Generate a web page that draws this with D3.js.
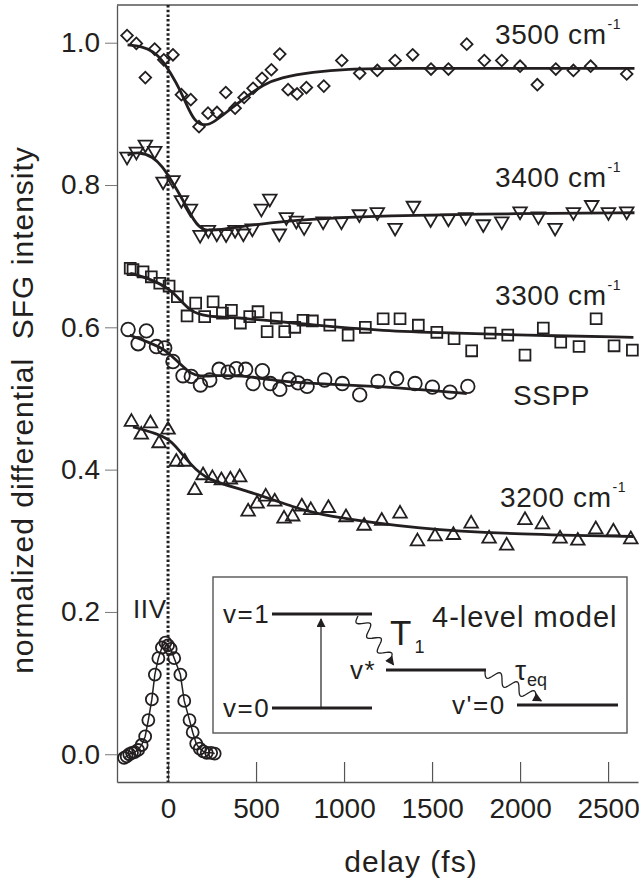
<!DOCTYPE html>
<html>
<head>
<meta charset="utf-8">
<script src="https://cdn.jsdelivr.net/npm/d3@7"></script>
<style>
body { margin: 0; background: #fff; }
text { font-family: "Liberation Sans", Arial, Helvetica, sans-serif; fill: #231f20; }
</style>
</head>
<body>
<div id="chart"></div>
<script>
// tick values
var xTicks = [0, 500, 1000, 1500, 2000, 2500];
var yTicks = [0.0, 0.2, 0.4, 0.6, 0.8, 1.0];

// data: [delay (fs), normalized signal]
var d3500 = [[-233,1.010],[-180,0.999],[-129,0.951],[-76,0.991],[-24,0.976],[28,0.983],[76,0.927],[129,0.920],
  [176,0.882],[227,0.901],[278,0.902],[328,0.930],[381,0.908],[432,0.923],[483,0.936],[534,0.950],[587,0.962],
  [635,0.984],[682,0.934],[733,0.928],[786,0.937],[885,0.939],[987,0.975],[1089,0.957],[1189,0.961],[1290,0.975],
  [1390,0.983],[1494,0.963],[1593,0.963],[1697,0.998],[1797,0.975],[1896,0.975],[2000,0.967],[2098,0.941],
  [2203,0.963],[2303,0.961],[2401,0.967],[2606,0.956]];
var fit3500 = [[-230,0.997],[-150,0.995],[-85,0.988],[-30,0.975],[20,0.955],[66,0.935],[110,0.910],[150,0.890],
  [200,0.883],[256,0.887],[350,0.906],[445,0.924],[540,0.941],[635,0.951],[824,0.959],[1013,0.963],[1300,0.964],
  [2000,0.964],[2650,0.964]];

var d3400 = [[-233,0.840],[-180,0.847],[-129,0.857],[-76,0.848],[-28,0.805],[28,0.807],[76,0.779],[127,0.767],
  [182,0.730],[229,0.737],[277,0.732],[330,0.731],[381,0.737],[428,0.732],[479,0.739],[530,0.767],[578,0.781],
  [632,0.732],[672,0.755],[729,0.750],[773,0.741],[881,0.749],[985,0.749],[1087,0.759],[1189,0.762],[1290,0.740],
  [1394,0.771],[1492,0.752],[1593,0.753],[1691,0.755],[1791,0.745],[1896,0.749],[2000,0.763],[2104,0.756],
  [2199,0.740],[2303,0.762],[2407,0.772],[2502,0.762],[2606,0.763]];
var fit3400 = [[-230,0.842],[-170,0.847],[-85,0.840],[-30,0.825],[10,0.810],[85,0.779],[150,0.748],[200,0.735],
  [300,0.737],[500,0.745],[800,0.752],[1200,0.757],[2000,0.760],[2650,0.761]];

var d3300 = [[-215,0.683],[-199,0.681],[-142,0.678],[-95,0.671],[-47,0.662],[6,0.658],[53,0.643],[108,0.616],
  [157,0.634],[208,0.615],[256,0.636],[309,0.620],[360,0.624],[411,0.606],[464,0.615],[511,0.622],[563,0.594],
  [615,0.613],[663,0.594],[720,0.600],[767,0.610],[820,0.609],[919,0.603],[1023,0.589],[1121,0.600],[1222,0.612],
  [1318,0.612],[1422,0.603],[1527,0.593],[1625,0.584],[1725,0.567],[1830,0.592],[1930,0.589],[2028,0.561],
  [2132,0.599],[2231,0.579],[2335,0.573],[2432,0.612],[2534,0.574],[2638,0.568]];
var fit3300 = [[-215,0.676],[-100,0.668],[10,0.654],[70,0.638],[123,0.624],[199,0.615],[445,0.613],[824,0.603],
  [1222,0.595],[1621,0.592],[2000,0.589],[2644,0.586]];

var dSSPP = [[-227,0.597],[-170,0.577],[-123,0.595],[-66,0.573],[-19,0.571],[28,0.552],[85,0.532],[132,0.531],
  [184,0.519],[237,0.526],[290,0.541],[341,0.537],[388,0.542],[441,0.541],[483,0.521],[536,0.539],[581,0.521],
  [635,0.513],[688,0.527],[739,0.522],[790,0.517],[890,0.526],[990,0.521],[1089,0.505],[1193,0.524],[1299,0.528],
  [1403,0.521],[1502,0.516],[1602,0.509],[1703,0.517]];
var fitSSPP = [[-218,0.589],[-120,0.580],[-10,0.568],[40,0.555],[85,0.545],[130,0.535],[180,0.531],[256,0.532],
  [407,0.533],[635,0.524],[900,0.520],[1203,0.517],[1450,0.512],[1697,0.507]];

var d3200 = [[-208,0.467],[-152,0.449],[-100,0.465],[-51,0.437],[0,0.456],[47,0.411],[95,0.411],[152,0.371],
  [199,0.392],[252,0.388],[303,0.385],[354,0.386],[407,0.389],[455,0.341],[506,0.352],[555,0.362],[606,0.355],
  [659,0.331],[708,0.334],[760,0.348],[811,0.343],[911,0.346],[1011,0.333],[1114,0.321],[1214,0.328],[1318,0.338],
  [1417,0.299],[1517,0.306],[1621,0.308],[1722,0.324],[1824,0.303],[1924,0.293],[2028,0.329],[2127,0.323],
  [2227,0.303],[2328,0.300],[2430,0.316],[2530,0.313],[2629,0.302]];
var fit3200 = [[-199,0.460],[-66,0.451],[10,0.442],[60,0.428],[123,0.409],[218,0.385],[445,0.371],[729,0.346],
  [864,0.336],[1432,0.316],[2000,0.309],[2644,0.306]];

// IR-vis cross correlation (IIV)
var dIIV = [[-250,-0.005],[-235,-0.003],[-220,0.000],[-205,0.002],[-190,0.003],[-170,0.006],[-150,0.013],
  [-130,0.025],[-112,0.048],[-92,0.077],[-75,0.112],[-55,0.135],[-35,0.150],[-15,0.157],[0,0.153],[15,0.148],
  [35,0.135],[70,0.112],[92,0.075],[122,0.048],[140,0.031],[160,0.015],[180,0.008],[200,0.004],[220,0.002],
  [245,0.002],[265,0.001]];

var ink = "#231f20", axisCol = "#555";
var width = 639, height = 881;

var svg = d3.select("#chart").append("svg")
    .attr("width", width)
    .attr("height", height);

var x = d3.scaleLinear().domain([-290, 2670]).range([117, 638]);
var y = d3.scaleLinear().domain([-0.039, 1.053]).range([782, 5]);

// frame: top line
svg.append("line")
    .attr("x1", x.range()[0]).attr("x2", x.range()[1])
    .attr("y1", y.range()[1]).attr("y2", y.range()[1])
    .attr("stroke", axisCol).attr("stroke-width", 1.3);

// y axis (ticks outside)
var yAxis = svg.append("g")
    .attr("transform", "translate(" + x.range()[0] + ",0)")
    .call(d3.axisLeft(y).tickValues(yTicks).tickSize(12).tickSizeOuter(0).tickPadding(5)
        .tickFormat(d3.format(".1f")));
yAxis.select(".domain").attr("stroke", axisCol).attr("stroke-width", 1.3);
yAxis.selectAll(".tick line").attr("stroke", "#777").attr("stroke-width", 1);
yAxis.selectAll("text").style("font-size", "28px").attr("fill", ink);

// x axis (ticks inside)
var xAxis = svg.append("g")
    .attr("transform", "translate(0," + y.range()[0] + ")")
    .call(d3.axisBottom(x).tickValues(xTicks).tickSizeInner(-20).tickSizeOuter(0).tickPadding(16)
        .tickFormat(d3.format("d")));
xAxis.select(".domain").attr("stroke", axisCol).attr("stroke-width", 1.3);
xAxis.selectAll(".tick line").attr("stroke", "#555").attr("stroke-width", 1.2);
xAxis.selectAll("text").style("font-size", "28px").attr("fill", ink);

// axis titles
svg.append("text")
    .attr("transform", "translate(33,410) rotate(-90)")
    .attr("text-anchor", "middle")
    .style("font-size", "30px")
    .style("letter-spacing", "1px")
    .style("white-space", "pre")
    .text("normalized differential  SFG intensity");

svg.append("text")
    .attr("x", 411).attr("y", 872)
    .attr("text-anchor", "middle")
    .style("font-size", "30px")
    .style("letter-spacing", "1px")
    .text("delay (fs)");

// dotted line at zero delay
svg.append("line")
    .attr("x1", x(0)).attr("x2", x(0))
    .attr("y1", y.range()[1]).attr("y2", y.range()[0])
    .attr("stroke", ink).attr("stroke-width", 3)
    .attr("stroke-dasharray", "2.5,2.2");

var fitLine = d3.line()
    .x(function(d) { return x(d[0]); })
    .y(function(d) { return y(d[1]); })
    .curve(d3.curveBasis);

function drawSymbols(data, gen, rot) {
    svg.append("g").selectAll("path")
        .data(data)
        .join("path")
        .attr("d", gen)
        .attr("transform", function(d) {
            return "translate(" + x(d[0]) + "," + y(d[1]) + ") rotate(" + rot + ")";
        })
        .attr("fill", "none")
        .attr("stroke", ink)
        .attr("stroke-width", 1.8);
}

function drawCircles(data, r) {
    svg.append("g").selectAll("circle")
        .data(data)
        .join("circle")
        .attr("cx", function(d) { return x(d[0]); })
        .attr("cy", function(d) { return y(d[1]); })
        .attr("r", r)
        .attr("fill", "none")
        .attr("stroke", ink)
        .attr("stroke-width", 1.8);
}

function drawFit(data) {
    svg.append("path")
        .datum(data)
        .attr("d", fitLine)
        .attr("fill", "none")
        .attr("stroke", ink)
        .attr("stroke-width", 2.8);
}

// markers
drawSymbols(d3500, d3.symbol().type(d3.symbolSquare).size(68), 45);
drawSymbols(d3400, d3.symbol().type(d3.symbolTriangle).size(80), 180);
drawSymbols(d3300, d3.symbol().type(d3.symbolSquare).size(118), 0);
drawCircles(dSSPP, 6.8);
drawSymbols(d3200, d3.symbol().type(d3.symbolTriangle).size(80), 0);

// fits
drawFit(fit3500);
drawFit(fit3400);
drawFit(fit3300);
drawFit(fitSSPP);
drawFit(fit3200);

// cross correlation
svg.append("path")
    .datum(dIIV)
    .attr("d", d3.line().x(function(d) { return x(d[0]); }).y(function(d) { return y(d[1]); }))
    .attr("fill", "none")
    .attr("stroke", ink)
    .attr("stroke-width", 1.5);
drawCircles(dIIV, 6);

// series labels
var labels = [
    {x: 495, y: 44, t: "3500 cm", s: "-1"},
    {x: 495, y: 187, t: "3400 cm", s: "-1"},
    {x: 495, y: 305, t: "3300 cm", s: "-1"},
    {x: 513, y: 405, t: "SSPP", s: ""},
    {x: 500, y: 507, t: "3200 cm", s: "-1"},
    {x: 133, y: 618, t: "IIV", s: ""}
];
labels.forEach(function(l) {
    var t = svg.append("text")
        .attr("x", l.x).attr("y", l.y)
        .style("font-size", l.t == "IIV" ? "26px" : "28px")
        .style("letter-spacing", "0.6px")
        .text(l.t);
    if (l.s) {
        t.append("tspan")
            .attr("dy", -15)
            .attr("dx", 1)
            .style("font-size", "14px")
            .text(l.s);
    }
});

// ---- inset: 4-level model ----
var inset = svg.append("g");
var defs = svg.append("defs");
defs.append("marker")
    .attr("id", "head")
    .attr("viewBox", "0 0 10 10")
    .attr("refX", 9).attr("refY", 5)
    .attr("markerWidth", 10).attr("markerHeight", 9)
    .attr("markerUnits", "userSpaceOnUse")
    .attr("orient", "auto")
    .append("path")
    .attr("d", "M0,0L10,5L0,10z")
    .attr("fill", ink);

inset.append("rect")
    .attr("x", 213).attr("y", 577)
    .attr("width", 414).attr("height", 156)
    .attr("fill", "#fff")
    .attr("stroke", axisCol).attr("stroke-width", 1.4);

var levels = [
    {x1: 272, x2: 372, y: 614, label: "v=1", lx: 223},
    {x1: 272, x2: 372, y: 708, label: "v=0", lx: 223},
    {x1: 386, x2: 486, y: 670, label: "v*", lx: 350},
    {x1: 517, x2: 618, y: 705, label: "v'=0", lx: 452}
];
levels.forEach(function(l) {
    inset.append("line")
        .attr("x1", l.x1).attr("x2", l.x2)
        .attr("y1", l.y).attr("y2", l.y)
        .attr("stroke", ink).attr("stroke-width", 3);
    inset.append("text")
        .attr("x", l.lx).attr("y", l.y + 8.5)
        .style("font-size", "26px")
        .style("letter-spacing", "1.5px")
        .text(l.label);
});

// excitation arrow
inset.append("line")
    .attr("x1", 321).attr("x2", 321)
    .attr("y1", 708).attr("y2", 619)
    .attr("stroke", ink).attr("stroke-width", 1.2)
    .attr("marker-end", "url(#head)");

// wavy relaxation arrows
function wavy(x0, y0, x1, y1, waves, amp) {
    var pts = [], n = 60;
    var dx = x1 - x0, dy = y1 - y0, len = Math.sqrt(dx * dx + dy * dy);
    var nx = -dy / len, ny = dx / len;
    for (var i = 0; i <= n; i++) {
        var f = i / n;
        var off = amp * Math.sin(f * waves * 2 * Math.PI);
        pts.push([x0 + dx * f + nx * off, y0 + dy * f + ny * off]);
    }
    pts.push([x1 + dx / len * 6, y1 + dy / len * 6]);
    return d3.line()(pts);
}
inset.append("path")
    .attr("d", wavy(358, 616, 390, 660, 3, 5.5))
    .attr("fill", "none").attr("stroke", ink).attr("stroke-width", 1.3)
    .attr("marker-end", "url(#head)");
inset.append("path")
    .attr("d", wavy(485, 671, 536, 698, 3, 5.5))
    .attr("fill", "none").attr("stroke", ink).attr("stroke-width", 1.3)
    .attr("marker-end", "url(#head)");

inset.append("text")
    .attr("x", 432).attr("y", 627)
    .style("font-size", "29px")
    .style("letter-spacing", "1px")
    .text("4-level model");

var tT = inset.append("text")
    .attr("x", 390).attr("y", 645)
    .style("font-size", "35px")
    .text("T");
tT.append("tspan").attr("dx", 3).attr("dy", 8).style("font-size", "18px").text("1");

var tTau = inset.append("text")
    .attr("x", 515).attr("y", 680)
    .style("font-size", "28px")
    .text("τ");
tTau.append("tspan").attr("dx", 1).attr("dy", 6).style("font-size", "18px").text("eq");
</script>
</body>
</html>
